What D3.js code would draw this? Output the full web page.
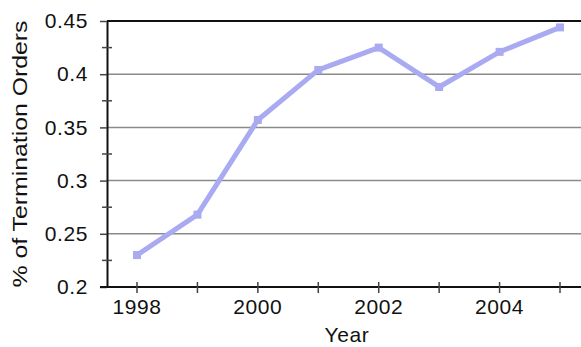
<!DOCTYPE html>
<html><head><meta charset="utf-8">
<script src="https://cdn.jsdelivr.net/npm/d3@7"></script>
<style>body{margin:0;background:#fff}svg{display:block}text{font-family:Arial,"Liberation Sans",sans-serif;fill:#111}</style>
</head><body><svg id="c" width="581" height="347"></svg>
<script>
const years = [1998, 1999, 2000, 2001, 2002, 2003, 2004, 2005];
const shares = [0.230, 0.268, 0.357, 0.404, 0.425, 0.388, 0.421, 0.444];
const yTicks = [0.2, 0.25, 0.3, 0.35, 0.4, 0.45];
const yMinor = [0.225, 0.275, 0.325, 0.375, 0.425];
const xTicks = [1998, 1999, 2000, 2001, 2002, 2003, 2004, 2005];
const xLabels = [1998, 2000, 2002, 2004];

const svg = d3.select("#c");
const L = 107, R = 581, T = 21, B = 287;
const x = d3.scaleLinear().domain([1998, 2005]).range([137, 560]);
const y = d3.scaleLinear().domain([0.2, 0.45]).range([B, T]);

// gridlines
svg.append("g").selectAll("line").data(yTicks.filter(v => v > 0.2 && v < 0.45)).join("line")
  .attr("x1", L).attr("x2", R).attr("y1", d => y(d)).attr("y2", d => y(d))
  .attr("stroke", "#8a8a8a").attr("stroke-width", 1.5);
// top border
svg.append("line").attr("x1", L).attr("x2", R).attr("y1", T).attr("y2", T)
  .attr("stroke", "#111").attr("stroke-width", 2);

// y axis
const ya = svg.append("g").attr("transform", `translate(${L},0)`)
  .call(d3.axisLeft(y).tickValues(yTicks).tickSize(7).tickSizeOuter(0).tickPadding(12)
    .tickFormat(d => String(+d.toFixed(2))));
ya.select(".domain").attr("stroke", "#111").attr("stroke-width", 2);
ya.selectAll(".tick line").attr("stroke", "#444").attr("stroke-width", 1.5);
ya.selectAll("text").attr("font-size", 21).style("letter-spacing", "0.6px").attr("fill", "#111");
svg.append("g").selectAll("line").data(yMinor).join("line")
  .attr("x1", L - 5).attr("x2", L + 5).attr("y1", d => y(d)).attr("y2", d => y(d))
  .attr("stroke", "#444").attr("stroke-width", 1.5);

// x axis
svg.append("line").attr("x1", L - 7).attr("x2", R).attr("y1", B).attr("y2", B)
  .attr("stroke", "#111").attr("stroke-width", 2);
svg.append("g").selectAll("line").data(xTicks).join("line")
  .attr("x1", d => x(d)).attr("x2", d => x(d)).attr("y1", B - 5).attr("y2", B + 6)
  .attr("stroke", "#444").attr("stroke-width", 1.5);
svg.append("g").selectAll("text").data(xLabels).join("text")
  .attr("x", d => x(d)).attr("y", 314).attr("text-anchor", "middle")
  .attr("font-size", 21).style("letter-spacing", "0.6px").text(d => d);

// titles
svg.append("text").attr("x", 347).attr("y", 342).attr("text-anchor", "middle")
  .attr("font-size", 21).style("letter-spacing", "0.6px").text("Year");
svg.append("text").attr("transform", "translate(27,154) rotate(-90)").attr("text-anchor", "middle")
  .attr("font-size", 21).attr("textLength", 267).attr("lengthAdjust", "spacingAndGlyphs")
  .text("% of Termination Orders");

// line
const pts = years.map((yr, i) => [yr, shares[i]]);
svg.append("path").datum(pts)
  .attr("d", d3.line().x(d => x(d[0])).y(d => y(d[1])))
  .attr("fill", "none").attr("stroke", "#a9aaf2").attr("stroke-width", 5)
  .attr("stroke-linejoin", "round");
svg.append("g").selectAll("rect").data(pts).join("rect")
  .attr("x", d => x(d[0]) - 4).attr("y", d => y(d[1]) - 4).attr("width", 8).attr("height", 8)
  .attr("fill", "#a9aaf2");
</script></body></html>
